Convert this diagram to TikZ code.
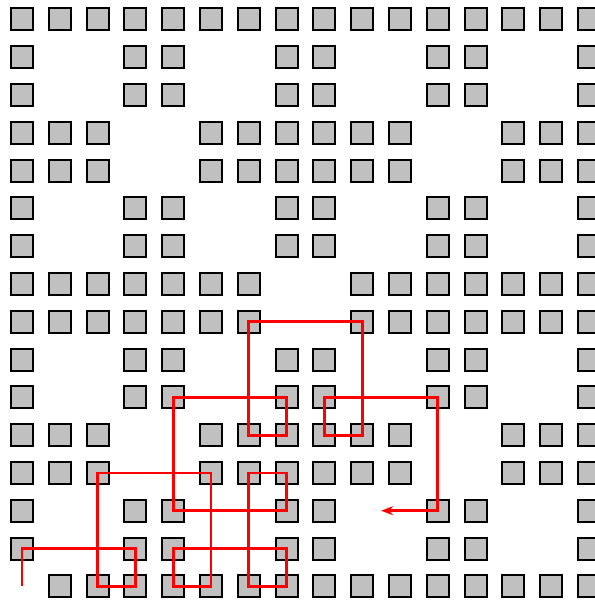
\documentclass[tikz,border=0pt]{standalone}
\usetikzlibrary{arrows.meta}
\definecolor{cellgray}{RGB}{192,192,192}
\begin{document}
\begin{tikzpicture}[x=1pt,y=-1pt,
  cell/.style={shape=rectangle,draw=black,fill=cellgray,line width=2pt,
    minimum size=22pt,inner sep=0pt,outer sep=0pt},
  curve/.style={draw=red,line width=2.8pt,line join=miter,
    -{Stealth[length=12pt,width=9pt,inset=4pt]}}]
\useasboundingbox (0,0) rectangle (594,602);
% squares
\foreach \r/\cols in {
  0/{0,1,2,3,4,5,6,7,8,9,10,11,12,13,14,15},
  1/{0,3,4,7,8,11,12,15},
  2/{0,3,4,7,8,11,12,15},
  3/{0,1,2,5,6,7,8,9,10,13,14,15},
  4/{0,1,2,5,6,7,8,9,10,13,14,15},
  5/{0,3,4,7,8,11,12,15},
  6/{0,3,4,7,8,11,12,15},
  7/{0,1,2,3,4,5,6,9,10,11,12,13,14,15},
  8/{0,1,2,3,4,5,6,9,10,11,12,13,14,15},
  9/{0,3,4,7,8,11,12,15},
  10/{0,3,4,7,8,11,12,15},
  11/{0,1,2,5,6,7,8,9,10,13,14,15},
  12/{0,1,2,5,6,7,8,9,10,13,14,15},
  13/{0,3,4,7,8,11,12,15},
  14/{0,3,4,7,8,11,12,15},
  15/{1,2,3,4,5,6,7,8,9,10,11,12,13,14,15}}{
  \foreach \c in \cols {
    \node[cell] (sq-\c-\r) at ({22+37.8*\c},{19.3+37.8*\r}) {};
  }
}
% curve vertices
\foreach [count=\i] \c/\r in {0/15,0/14,3/14,3/15,2/15,2/12,5/12,5/15,4/15,4/14,
  7/14,7/15,6/15,6/12,7/12,7/13,4/13,4/10,7/10,7/11,6/11,6/8,9/8,9/11,8/11,
  8/10,11/10,11/13,9.5/13}{
  \coordinate (v\i) at ({22+37.8*\c},{19.3+37.8*\r});
}
\draw[curve] (v1) -- (v2) -- (v3) -- (v4) -- (v5) -- (v6) -- (v7) -- (v8)
  -- (v9) -- (v10) -- (v11) -- (v12) -- (v13) -- (v14) -- (v15) -- (v16)
  -- (v17) -- (v18) -- (v19) -- (v20) -- (v21) -- (v22) -- (v23) -- (v24)
  -- (v25) -- (v26) -- (v27) -- (v28) -- (v29);
\end{tikzpicture}
\end{document}
